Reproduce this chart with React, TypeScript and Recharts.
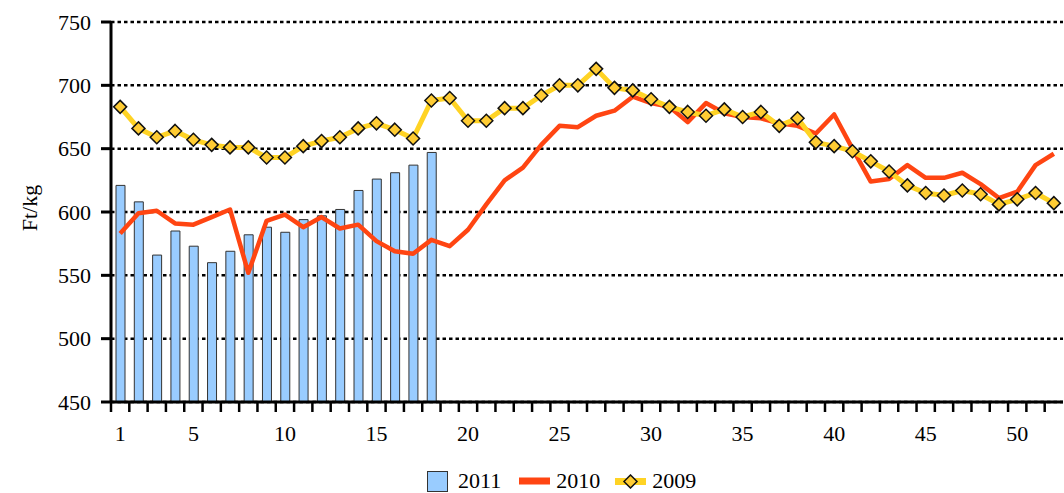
import React from 'react'
import { ComposedChart, Bar, Line, XAxis, YAxis, CartesianGrid, Legend } from 'recharts'

// heti átlagár, Ft/kg
const WEEKS = Array.from({ length: 52 }, (_, i) => i + 1)

const PRICES_2011 = [621, 608, 566, 585, 573, 560, 569, 582, 588, 584, 594, 597, 602, 617, 626, 631, 637, 647]

const PRICES_2010 = [
  583, 599, 601, 591, 590, 596, 602, 552, 593, 598, 588, 596, 587, 590, 577, 569, 567, 578, 573, 586,
  606, 625, 635, 653, 668, 667, 676, 680, 691, 686, 683, 671, 686, 678, 675, 674, 670, 668, 662, 677,
  650, 624, 626, 637, 627, 627, 631, 622, 611, 616, 637, 646,
]

const PRICES_2009 = [
  683, 666, 659, 664, 657, 653, 651, 651, 643, 643, 652, 656, 659, 666, 670, 665, 658, 688, 690, 672,
  672, 682, 682, 692, 700, 700, 713, 698, 696, 689, 683, 679, 676, 681, 675, 679, 668, 674, 655, 652,
  648, 640, 632, 621, 615, 613, 617, 614, 606, 610, 615, 607,
]

const Y_TICKS = [450, 500, 550, 600, 650, 700, 750]
const X_LABELS = [1, 5, 10, 15, 20, 25, 30, 35, 40, 45, 50]

const SERIES_NAMES = ['2011', '2010', '2009']

const data = WEEKS.map((w, i) => ({
  week: w,
  y2011: PRICES_2011[i],
  y2010: PRICES_2010[i],
  y2009: PRICES_2009[i],
}))

const FONT = '"Liberation Serif", "Times New Roman", serif'
const BAR_FILL = '#99CCFF'
const RED = '#FF4512'
const GOLD = '#FFD324'
const DIAMOND = '#FFCC33'

function WeekTick(props: any) {
  const { x, y, payload } = props
  const half = payload?.offset ?? 952 / 52 / 2
  const v = Number(payload.value)
  return (
    <g>
      <line x1={x - half} x2={x - half} y1={y} y2={y + 10} stroke="#000" strokeWidth={2.5} />
      {X_LABELS.includes(v) && (
        <text x={x} y={y + 39} textAnchor="middle" fontFamily={FONT} fontSize={22} fill="#000">
          {v}
        </text>
      )}
    </g>
  )
}

function Diamond(props: any) {
  const { cx, cy } = props
  if (cx == null || cy == null) return null
  const r = 6.5
  return (
    <polygon
      points={`${cx},${cy - r} ${cx + r},${cy} ${cx},${cy + r} ${cx - r},${cy}`}
      fill={DIAMOND}
      stroke="#111"
      strokeWidth={1.5}
    />
  )
}

function YLabel() {
  return (
    <text
      x={29}
      y={208}
      transform="rotate(-90, 29, 208)"
      textAnchor="middle"
      dominantBaseline="central"
      fontFamily={FONT}
      fontSize={22}
      fill="#000"
    >
      Ft/kg
    </text>
  )
}

function ChartLegend() {
  const text = { fontFamily: FONT, fontSize: 22, color: '#000', lineHeight: '22px' }
  return (
    <div
      style={{
        height: 41,
        boxSizing: 'border-box',
        paddingTop: 17,
        display: 'flex',
        alignItems: 'center',
        paddingLeft: 427,
      }}
    >
      <svg width={21} height={21} style={{ marginRight: 10 }}>
        <rect x={0.5} y={0.5} width={20} height={20} fill={BAR_FILL} stroke="#333" strokeWidth={1} />
      </svg>
      <span style={text}>{SERIES_NAMES[0]}</span>
      <svg width={31} height={8} style={{ marginLeft: 18, marginRight: 6 }}>
        <rect x={0} y={0.5} width={31} height={7} fill={RED} />
      </svg>
      <span style={text}>{SERIES_NAMES[1]}</span>
      <svg width={31} height={15} style={{ marginLeft: 15, marginRight: 6 }}>
        <rect x={0} y={4} width={31} height={7} fill={GOLD} />
        <polygon points="15.5,1 22,7.5 15.5,14 9,7.5" fill={DIAMOND} stroke="#111" strokeWidth={1.5} />
      </svg>
      <span style={text}>{SERIES_NAMES[2]}</span>
    </div>
  )
}

export default function App() {
  return (
    <div style={{ width: 1064, height: 493, background: '#fff' }}>
      <style>{'body{margin:0}'}</style>
      <ComposedChart
        width={1064}
        height={493}
        data={data}
        margin={{ top: 22, right: 1, left: 0, bottom: 0 }}
      >
        <CartesianGrid
          vertical={false}
          stroke="#000"
          strokeWidth={2.5}
          strokeDasharray="3.5 3"
        />
        <XAxis
          dataKey="week"
          interval={0}
          height={50}
          tickLine={false}
          tickSize={0}
          tickMargin={0}
          axisLine={{ stroke: '#000', strokeWidth: 3 }}
          tick={<WeekTick />}
        />
        <YAxis
          width={111}
          domain={[450, 750]}
          ticks={Y_TICKS}
          interval={0}
          tickSize={10}
          tickMargin={10}
          axisLine={{ stroke: '#000', strokeWidth: 3 }}
          tickLine={{ stroke: '#000', strokeWidth: 3 }}
          tick={{ fontFamily: FONT, fontSize: 22, fill: '#000' }}
          label={<YLabel />}
        />
        <Legend verticalAlign="bottom" height={41} content={<ChartLegend />} />
        <Bar
          dataKey="y2011"
          name={SERIES_NAMES[0]}
          barSize={9}
          fill={BAR_FILL}
          stroke="#333"
          strokeWidth={1}
          isAnimationActive={false}
        />
        <Line
          dataKey="y2010"
          name={SERIES_NAMES[1]}
          stroke={RED}
          strokeWidth={4.5}
          strokeLinejoin="round"
          dot={false}
          activeDot={false}
          isAnimationActive={false}
        />
        <Line
          dataKey="y2009"
          name={SERIES_NAMES[2]}
          stroke={GOLD}
          strokeWidth={5}
          strokeLinejoin="round"
          dot={<Diamond />}
          activeDot={false}
          isAnimationActive={false}
        />
      </ComposedChart>
    </div>
  )
}
